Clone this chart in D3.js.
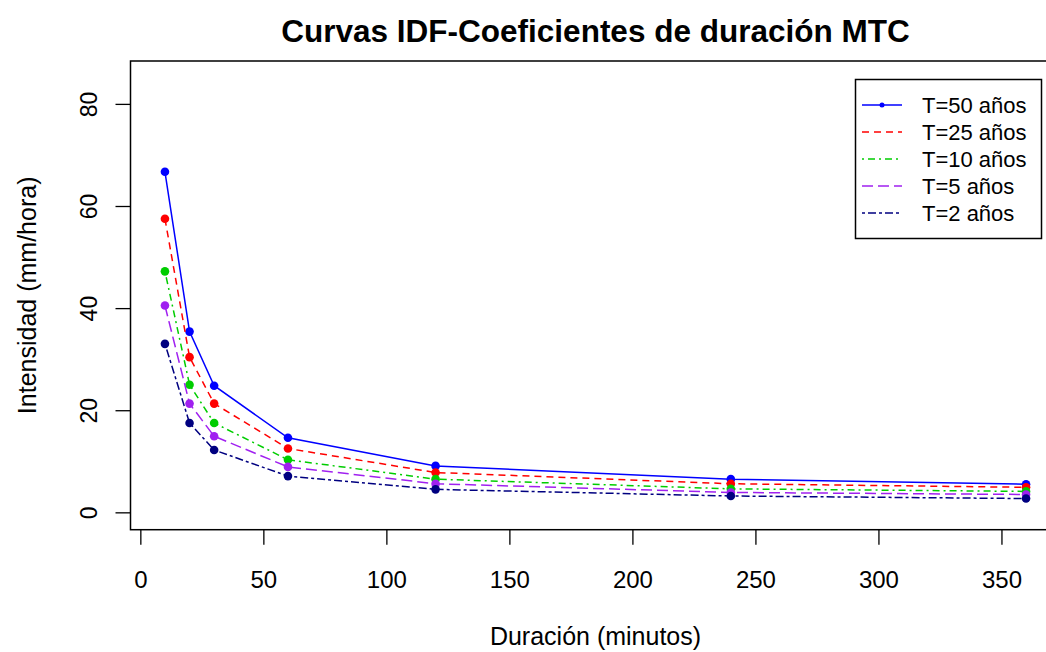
<!DOCTYPE html>
<html>
<head>
<meta charset="utf-8">
<script src="https://cdn.jsdelivr.net/npm/d3@7"></script>
<style>
  html, body { margin: 0; padding: 0; background: #fff; }
  svg { display: block; font-family: "Liberation Sans", Arial, sans-serif; }
</style>
</head>
<body>
<svg id="chart" width="1046" height="652"></svg>
<script>
// ---- data ----
const durations = [10, 20, 30, 60, 120, 240, 360];
const T50 = [66.7, 35.4, 24.8, 14.6, 9.1, 6.5, 5.5];
const T25 = [57.5, 30.4, 21.3, 12.5, 7.8, 5.6, 4.9];
const T10 = [47.2, 25.0, 17.5, 10.3, 6.5, 4.6, 4.1];
const T5  = [40.5, 21.3, 14.9, 8.9, 5.6, 3.9, 3.5];
const T2  = [33.0, 17.5, 12.2, 7.1, 4.5, 3.2, 2.7];
const seriesNames = ["T=50 años", "T=25 años", "T=10 años", "T=5 años", "T=2 años"];
const xTicks = [0, 50, 100, 150, 200, 250, 300, 350];
const yTicks = [0, 20, 40, 60, 80];
const title = "Curvas IDF-Coeficientes de duración MTC";
const xLabel = "Duración (minutos)";
const yLabel = "Intensidad (mm/hora)";

// ---- styles ----
const seriesValues = [T50, T25, T10, T5, T2];
const colors = ["#0000FF", "#FF0000", "#00CD00", "#A020F0", "#000080"];
const dashes = [null, "7,5", "2,4,7,4", "11,5", "3,3,8,3"];

const svg = d3.select("#chart");
const plot = { left: 130.5, top: 61, right: 1060.5, bottom: 529.7 };

const x = d3.scaleLinear().domain([-4, 374]).range([plot.left, plot.right]);
const y = d3.scaleLinear().domain([-3.4, 88.4]).range([plot.bottom, plot.top]);

// title
svg.append("text")
  .attr("x", (plot.left + plot.right) / 2).attr("y", 42)
  .attr("text-anchor", "middle")
  .attr("font-size", 31.5).attr("font-weight", "bold")
  .text(title);

// axes
const xAxis = d3.axisBottom(x).tickValues(xTicks).tickSize(15).tickPadding(26).tickFormat(d3.format("d"));
const gx = svg.append("g").attr("transform", `translate(0,${plot.bottom})`).call(xAxis);
gx.select(".domain").remove();
gx.selectAll("line").attr("stroke", "#000").attr("stroke-width", 1.3);
gx.selectAll("text").attr("font-size", 24).attr("fill", "#000")
  .attr("font-family", "Liberation Sans, Arial, sans-serif");

const yAxis = d3.axisLeft(y).tickValues(yTicks).tickSize(15).tickFormat(d3.format("d"));
const gy = svg.append("g").attr("transform", `translate(${plot.left},0)`).call(yAxis);
gy.select(".domain").remove();
gy.selectAll("line").attr("stroke", "#000").attr("stroke-width", 1.3);
gy.selectAll("text").remove();
gy.selectAll(".tick").append("text")
  .attr("transform", "translate(-42,0) rotate(-90)")
  .attr("text-anchor", "middle").attr("dy", "0.35em")
  .attr("font-size", 23).attr("fill", "#000")
  .attr("font-family", "Liberation Sans, Arial, sans-serif")
  .text(d => d);

// axis labels
svg.append("text")
  .attr("x", (plot.left + plot.right) / 2).attr("y", 645)
  .attr("text-anchor", "middle").attr("font-size", 25)
  .text(xLabel);
svg.append("text")
  .attr("transform", `translate(36,${(plot.top + plot.bottom) / 2}) rotate(-90)`)
  .attr("text-anchor", "middle").attr("font-size", 25)
  .text(yLabel);

// box
svg.append("rect")
  .attr("x", plot.left).attr("y", plot.top)
  .attr("width", plot.right - plot.left).attr("height", plot.bottom - plot.top)
  .attr("fill", "none").attr("stroke", "#000").attr("stroke-width", 1.5);

// lines & points
const line = d3.line().x((d, i) => x(durations[i])).y(d => y(d));
seriesValues.forEach((vals, k) => {
  const p = svg.append("path").datum(vals)
    .attr("d", line).attr("fill", "none")
    .attr("stroke", colors[k]).attr("stroke-width", 1.5);
  if (dashes[k]) p.attr("stroke-dasharray", dashes[k]);
  svg.append("g").selectAll("circle").data(vals).join("circle")
    .attr("cx", (d, i) => x(durations[i])).attr("cy", d => y(d))
    .attr("r", 4.3).attr("fill", colors[k]);
});

// legend
const lg = svg.append("g");
lg.append("rect").attr("x", 855.5).attr("y", 79.5).attr("width", 186).attr("height", 159)
  .attr("fill", "#fff").attr("stroke", "#000").attr("stroke-width", 1.5);
seriesNames.forEach((name, k) => {
  const yy = 105 + k * 27;
  const l = lg.append("line").attr("x1", 862).attr("x2", 902).attr("y1", yy).attr("y2", yy)
    .attr("stroke", colors[k]).attr("stroke-width", 1.5);
  if (dashes[k]) l.attr("stroke-dasharray", dashes[k]);
  if (k === 0) lg.append("circle").attr("cx", 882).attr("cy", yy).attr("r", 2.5).attr("fill", colors[k]);
  lg.append("text").attr("x", 922).attr("y", yy).attr("dy", "0.35em")
    .attr("font-size", 22).text(name);
});
</script>
</body>
</html>
